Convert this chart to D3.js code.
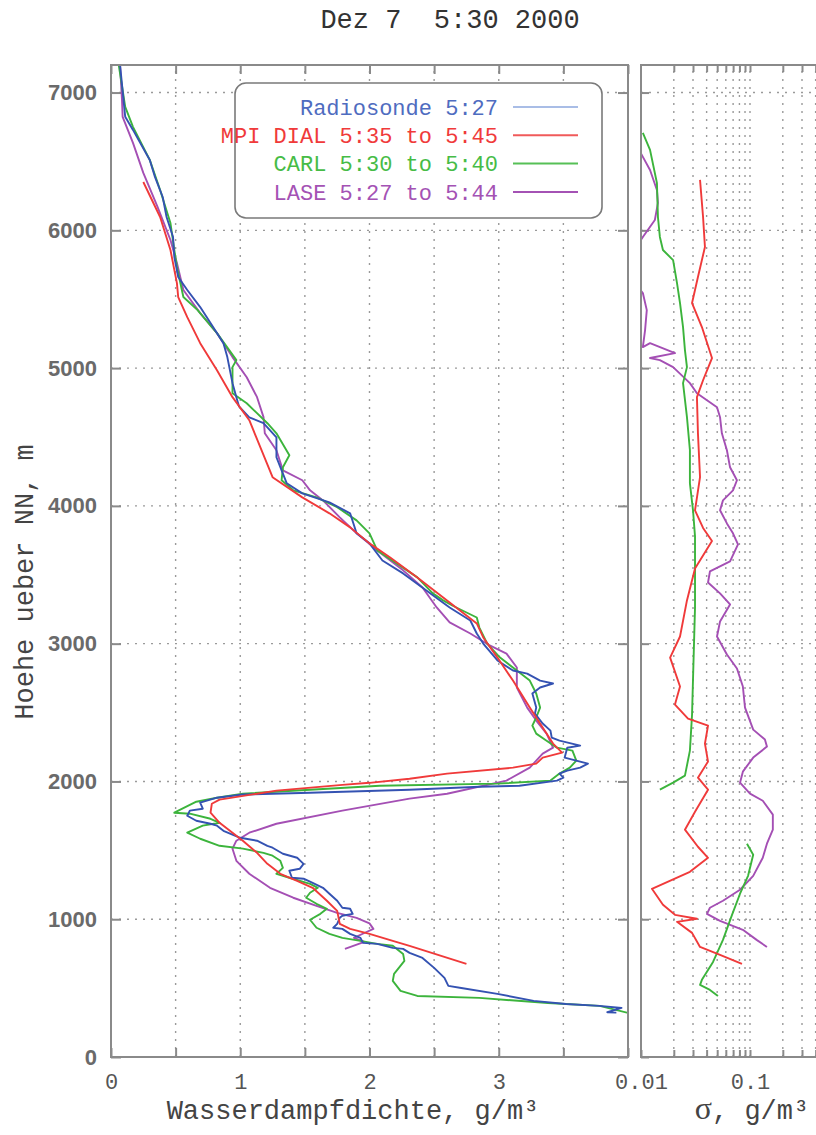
<!DOCTYPE html>
<html>
<head>
<meta charset="utf-8">
<title>Dez 7 5:30 2000</title>
<script src="https://d3js.org/d3.v7.min.js"></script>
<style>
  body { margin: 0; background: white; }
  svg { display: block; }
  .mono { font-family: "Liberation Mono", "DejaVu Sans Mono", monospace; }
  .grid line { stroke: #9a9a9a; stroke-dasharray: 2,6; stroke-width: 1.4; }
  .frame { fill: none; stroke: #8a8a8a; stroke-width: 2; }
  .curve { fill: none; stroke-width: 1.9; stroke-linejoin: round; }
  .axis path { display: none; }
  .axis line { stroke: #8a8a8a; stroke-width: 2; }
  .xax text { font-family: "Liberation Mono", monospace; font-size: 22px; fill: #555; }
  .yax text { font-family: "Liberation Sans", Arial, sans-serif; font-weight: bold; font-size: 22px; fill: #6a6a6a; }
</style>
</head>
<body>
<script>
// Wasserdampfdichte [g/m3, Hoehe m]
var radiosonde = [[0.07,7200],[0.11,6824],[0.17,6729],[0.30,6511],[0.34,6388],[0.40,6242],[0.43,6097],[0.48,5952],[0.49,5806],[0.52,5661],[0.59,5567],[0.69,5443],[0.77,5327],[0.87,5181],[0.90,5080],[0.94,4891],[0.97,4789],[0.99,4723],[1.07,4643],[1.18,4600],[1.28,4498],[1.28,4353],[1.32,4258],[1.36,4164],[1.48,4091],[1.69,4026],[1.85,3946],[1.90,3801],[2.00,3728],[2.10,3604],[2.26,3510],[2.44,3386],[2.62,3263],[2.78,3168],[2.83,3074],[2.88,3001],[2.99,2878],[3.11,2805],[3.22,2783],[3.32,2732],[3.42,2711],[3.32,2682],[3.26,2638],[3.29,2536],[3.28,2493],[3.34,2420],[3.40,2369],[3.41,2318],[3.47,2296],[3.63,2260],[3.53,2245],[3.51,2173],[3.60,2151],[3.69,2129],[3.63,2100],[3.53,2078],[3.47,2057],[3.50,2027],[3.45,2006],[3.16,1969],[2.85,1962],[2.31,1940],[1.54,1918],[1.02,1905],[0.82,1882],[0.69,1846],[0.71,1802],[0.61,1788],[0.59,1751],[0.66,1715],[0.77,1693],[0.82,1679],[0.87,1642],[1.00,1591],[1.13,1570],[1.21,1533],[1.25,1519],[1.33,1475],[1.44,1446],[1.49,1402],[1.46,1366],[1.38,1352],[1.40,1301],[1.49,1294],[1.56,1264],[1.64,1228],[1.69,1185],[1.75,1134],[1.79,1083],[1.85,1076],[1.87,1039],[1.79,1025],[1.77,1010],[1.75,966],[1.72,938],[1.79,930],[1.85,894],[1.93,865],[1.95,828],[2.06,821],[2.18,792],[2.26,785],[2.31,756],[2.41,719],[2.50,647],[2.58,574],[2.61,516],[2.71,501],[2.99,458],[3.27,407],[3.52,385],[3.78,371],[3.95,356],[3.84,325],[3.91,322]];
var mpiDial = [[0.25,6351],[0.38,6097],[0.46,5857],[0.51,5617],[0.52,5516],[0.59,5370],[0.69,5181],[0.82,4985],[0.94,4789],[1.07,4622],[1.25,4208],[1.48,4062],[1.69,3946],[1.85,3844],[2.00,3728],[2.16,3626],[2.37,3481],[2.60,3314],[2.83,3147],[2.88,3045],[2.99,2899],[3.11,2732],[3.24,2536],[3.34,2391],[3.42,2275],[3.49,2209],[3.34,2173],[3.29,2129],[3.11,2100],[2.60,2057],[2.31,2020],[2.00,1990],[1.79,1975],[1.28,1933],[0.84,1868],[0.78,1838],[0.77,1773],[0.84,1700],[0.94,1628],[1.02,1570],[1.13,1482],[1.21,1402],[1.31,1330],[1.44,1279],[1.56,1228],[1.67,1134],[1.75,1061],[1.77,966],[1.85,930],[2.00,894],[2.18,843],[2.31,807],[2.75,676]];
var carl = [[0.06,7200],[0.11,6896],[0.17,6751],[0.30,6511],[0.38,6293],[0.46,6053],[0.49,5857],[0.51,5734],[0.56,5516],[0.67,5421],[0.82,5254],[0.97,5058],[0.94,5007],[0.94,4818],[1.05,4745],[1.21,4600],[1.28,4527],[1.38,4367],[1.33,4280],[1.32,4186],[1.41,4113],[1.59,4062],[1.75,3990],[1.90,3895],[2.00,3801],[2.06,3677],[2.21,3583],[2.29,3532],[2.37,3481],[2.49,3365],[2.57,3314],[2.64,3277],[2.83,3190],[2.85,3117],[2.91,3001],[3.01,2899],[3.14,2805],[3.24,2732],[3.29,2638],[3.32,2536],[3.29,2464],[3.26,2405],[3.29,2347],[3.37,2296],[3.45,2245],[3.57,2224],[3.60,2151],[3.55,2100],[3.47,2057],[3.40,2006],[2.99,1984],[2.08,1969],[1.54,1940],[1.02,1911],[0.82,1882],[0.66,1853],[0.49,1773],[0.61,1766],[0.77,1729],[0.84,1700],[0.71,1679],[0.59,1628],[0.69,1584],[0.84,1533],[1.02,1512],[1.18,1482],[1.25,1461],[1.31,1424],[1.33,1373],[1.28,1330],[1.38,1301],[1.54,1257],[1.60,1228],[1.54,1192],[1.51,1156],[1.59,1112],[1.67,1076],[1.62,1039],[1.54,996],[1.59,938],[1.69,894],[1.79,865],[1.93,843],[2.06,821],[2.18,807],[2.26,748],[2.27,698],[2.19,603],[2.18,552],[2.24,480],[2.37,443],[2.85,429],[3.38,392],[3.78,371],[4.0,320]];
var lase = [[0.07,7200],[0.085,6947],[0.09,6824],[0.17,6635],[0.25,6417],[0.36,6170],[0.46,5930],[0.51,5763],[0.56,5567],[0.69,5399],[0.82,5254],[0.94,5080],[1.05,4934],[1.13,4789],[1.18,4644],[1.19,4527],[1.28,4404],[1.33,4258],[1.48,4186],[1.54,4113],[1.64,4040],[1.77,3917],[1.90,3801],[2.06,3677],[2.26,3532],[2.41,3408],[2.52,3263],[2.62,3154],[2.78,3074],[2.93,2987],[3.06,2928],[3.14,2827],[3.14,2682],[3.22,2536],[3.29,2442],[3.37,2347],[3.42,2245],[3.34,2202],[3.24,2100],[3.06,2006],[2.60,1911],[2.31,1875],[1.79,1788],[1.28,1693],[1.07,1628],[0.97,1570],[0.94,1512],[0.97,1424],[1.07,1330],[1.23,1228],[1.41,1156],[1.59,1097],[1.75,1046],[1.90,1010],[2.00,970],[2.03,930],[1.96,900],[1.88,865],[1.96,835],[1.81,785]];

// Standardabweichung sigma [g/m3, Hoehe m]
var sigmaMpi = [[0.0348,6366],[0.0371,6097],[0.0386,5879],[0.0333,5661],[0.0294,5472],[0.0362,5298],[0.0448,5073],[0.0371,4912],[0.0326,4789],[0.0333,4527],[0.0348,4208],[0.0313,3968],[0.0371,3840],[0.0448,3745],[0.0313,3546],[0.0264,3314],[0.0228,3052],[0.0185,2899],[0.0228,2689],[0.0205,2558],[0.0270,2456],[0.0412,2405],[0.0386,2275],[0.0412,2144],[0.0333,2027],[0.0412,1940],[0.0313,1780],[0.0253,1650],[0.0333,1526],[0.0412,1446],[0.0281,1344],[0.0126,1221],[0.0159,1105],[0.0205,1032],[0.0326,1003],[0.0214,981],[0.0294,901],[0.0348,799],[0.0531,741],[0.0844,676]];
var sigmaCarlUpper = [[0.0104,6707],[0.0121,6584],[0.0140,6344],[0.0143,6097],[0.0149,5952],[0.0159,5857],[0.0197,5784],[0.0214,5617],[0.0228,5472],[0.0243,5298],[0.0253,5131],[0.0264,5007],[0.0243,4891],[0.0264,4644],[0.0281,4404],[0.0281,4164],[0.0300,3968],[0.0313,3779],[0.0313,3263],[0.0300,2740],[0.0294,2485],[0.0281,2224],[0.0253,2042],[0.0197,1991],[0.0149,1940]];
var sigmaCarlLower = [[0.0938,1548],[0.107,1468],[0.096,1315],[0.081,1185],[0.0684,1032],[0.0565,850],[0.0458,690],[0.0362,560],[0.0348,523],[0.0429,487],[0.0508,443]];
var sigmaLaseUpper = [[0.0098,6570],[0.0104,6533],[0.0121,6438],[0.0140,6293],[0.0143,6199],[0.0134,6075],[0.0104,5952],[0.0098,5920]];
var sigmaLaseLower = [[0.0098,5570],[0.0104,5545],[0.0113,5421],[0.0109,5276],[0.0104,5152],[0.0121,5181],[0.0205,5109],[0.0121,5073],[0.0149,5058],[0.0197,5007],[0.0281,4891],[0.0326,4818],[0.0403,4767],[0.0498,4716],[0.0531,4644],[0.0552,4527],[0.0614,4404],[0.0656,4280],[0.0759,4186],[0.0698,4113],[0.0565,4040],[0.0531,3968],[0.0614,3873],[0.0698,3801],[0.0776,3720],[0.0656,3597],[0.0429,3524],[0.0412,3444],[0.0531,3365],[0.0656,3285],[0.0531,3161],[0.0498,3052],[0.0614,2921],[0.0759,2820],[0.0860,2689],[0.090,2536],[0.107,2376],[0.137,2304],[0.143,2253],[0.107,2173],[0.086,2071],[0.081,1991],[0.100,1911],[0.131,1860],[0.162,1759],[0.162,1650],[0.143,1548],[0.131,1446],[0.107,1315],[0.081,1214],[0.0565,1134],[0.0429,1083],[0.0403,1039],[0.0531,988],[0.086,923],[0.115,850],[0.143,799]];

var legendLabels = ["Radiosonde 5:27", "MPI DIAL 5:35 to 5:45", "CARL 5:30 to 5:40", "LASE 5:27 to 5:44"];
var heightTicks = [0, 1000, 2000, 3000, 4000, 5000, 6000, 7000];
var densityTicks = [0, 0.5, 1, 1.5, 2, 2.5, 3, 3.5, 4];
var sigmaTicks = [0.02, 0.03, 0.04, 0.05, 0.06, 0.07, 0.08, 0.09, 0.1, 0.2, 0.3, 0.4, 0.5, 0.6, 0.7, 0.8, 0.9];

var colors = { blue: "#3452b2", red: "#f03a3a", green: "#3cb43c", purple: "#a44fb4" };

var W = 816, H = 1135;
var svg = d3.select("body").append("svg").attr("width", W).attr("height", H);

var y = d3.scaleLinear().domain([0, 7200]).range([1057, 65]);
var xL = d3.scaleLinear().domain([0, 4]).range([111, 628]);
var xR = d3.scaleLog().domain([0.01, 1]).range([641, 859]);

var defs = svg.append("defs");
defs.append("clipPath").attr("id", "clipL").append("rect")
  .attr("x", xL(0)).attr("y", y(7200)).attr("width", xL(4) - xL(0)).attr("height", y(0) - y(7200));
defs.append("clipPath").attr("id", "clipR").append("rect")
  .attr("x", xR(0.01)).attr("y", y(7200)).attr("width", xR(1) - xR(0.01)).attr("height", y(0) - y(7200));

// grids
var gL = svg.append("g").attr("class", "grid");
gL.selectAll(".v").data(densityTicks.filter(function(d) { return d > 0 && d < 4; })).enter().append("line")
  .attr("x1", function(d) { return xL(d); }).attr("x2", function(d) { return xL(d); })
  .attr("y1", y(0)).attr("y2", y(7200));
gL.selectAll(".h").data(heightTicks.filter(function(d) { return d > 0; })).enter().append("line")
  .attr("x1", xL(0)).attr("x2", xL(4))
  .attr("y1", function(d) { return y(d); }).attr("y2", function(d) { return y(d); });

var gR = svg.append("g").attr("class", "grid");
gR.selectAll(".v").data(sigmaTicks).enter().append("line")
  .attr("x1", function(d) { return xR(d); }).attr("x2", function(d) { return xR(d); })
  .attr("y1", y(0)).attr("y2", y(7200));
gR.selectAll(".h").data(heightTicks.filter(function(d) { return d > 0; })).enter().append("line")
  .attr("x1", xR(0.01)).attr("x2", xR(1))
  .attr("y1", function(d) { return y(d); }).attr("y2", function(d) { return y(d); });

// axes (inward ticks)
svg.append("g").attr("class", "axis xax").attr("transform", "translate(0," + y(0) + ")")
  .call(d3.axisBottom(xL).tickValues(densityTicks).tickSize(-9).tickPadding(16)
    .tickFormat(function(d) { return (d % 1 === 0 && d < 4) ? d : ""; }));
svg.append("g").attr("class", "axis").attr("transform", "translate(0," + y(7200) + ")")
  .call(d3.axisTop(xL).tickValues(densityTicks).tickSize(-9).tickFormat(""));
svg.append("g").attr("class", "axis yax").attr("transform", "translate(" + xL(0) + ",0)")
  .call(d3.axisLeft(y).tickValues(heightTicks).tickSize(-10).tickPadding(14).tickFormat(d3.format("d")));
svg.append("g").attr("class", "axis").attr("transform", "translate(" + xL(4) + ",0)")
  .call(d3.axisRight(y).tickValues(heightTicks).tickSize(-10).tickFormat(""));

svg.append("g").attr("class", "axis xax").attr("transform", "translate(0," + y(0) + ")")
  .call(d3.axisBottom(xR).tickValues([0.01].concat(sigmaTicks)).tickSize(-7).tickPadding(16)
    .tickFormat(function(d) { return d === 0.01 ? "0.01" : d === 0.1 ? "0.1" : ""; }));
svg.append("g").attr("class", "axis").attr("transform", "translate(0," + y(7200) + ")")
  .call(d3.axisTop(xR).tickValues(sigmaTicks).tickSize(-7).tickFormat(""));
svg.append("g").attr("class", "axis").attr("transform", "translate(" + xR(0.01) + ",0)")
  .call(d3.axisLeft(y).tickValues(heightTicks).tickSize(-8).tickFormat(""));

// curves
var lineL = d3.line().x(function(d) { return xL(d[0]); }).y(function(d) { return y(d[1]); });
var lineR = d3.line().x(function(d) { return xR(d[0]); }).y(function(d) { return y(d[1]); });

var cl = svg.append("g").attr("clip-path", "url(#clipL)");
[[lase, colors.purple], [carl, colors.green], [radiosonde, colors.blue], [mpiDial, colors.red]].forEach(function(s) {
  cl.append("path").attr("class", "curve").attr("d", lineL(s[0])).attr("stroke", s[1]);
});
var cr = svg.append("g").attr("clip-path", "url(#clipR)");
[[sigmaLaseUpper, colors.purple], [sigmaLaseLower, colors.purple], [sigmaCarlUpper, colors.green],
 [sigmaCarlLower, colors.green], [sigmaMpi, colors.red]].forEach(function(s) {
  cr.append("path").attr("class", "curve").attr("d", lineR(s[0])).attr("stroke", s[1]);
});

// frames
svg.append("rect").attr("class", "frame")
  .attr("x", xL(0)).attr("y", y(7200)).attr("width", xL(4) - xL(0)).attr("height", y(0) - y(7200));
svg.append("rect").attr("class", "frame")
  .attr("x", xR(0.01)).attr("y", y(7200)).attr("width", xR(1) - xR(0.01)).attr("height", y(0) - y(7200));

// legend
var leg = svg.append("g");
leg.append("rect").attr("x", 235).attr("y", 83).attr("width", 367).attr("height", 135)
  .attr("rx", 11).attr("fill", "white").attr("stroke", "#7a7a7a").attr("stroke-width", 1.6);
var legText = ["#4f6cc0", "#f03a3a", "#46bc46", "#a452b4"];
var legLine = ["#a9bde6", "#f05a5a", "#56c056", "#a452b4"];
legendLabels.forEach(function(t, i) {
  var cy = 107 + i * 28.3;
  leg.append("text").attr("class", "mono").attr("x", 498).attr("y", cy).attr("dy", "0.35em")
    .attr("text-anchor", "end").attr("font-size", 22).attr("fill", legText[i]).text(t);
  leg.append("line").attr("x1", 513).attr("x2", 578).attr("y1", cy).attr("y2", cy)
    .attr("stroke", legLine[i]).attr("stroke-width", 2);
});

// titles
svg.append("text").attr("class", "mono").attr("x", 450).attr("y", 28).attr("text-anchor", "middle")
  .attr("font-size", 27).attr("fill", "#333").text("Dez 7  5:30 2000").style("white-space", "pre");
svg.append("text").attr("class", "mono").attr("x", 353).attr("y", 1119).attr("text-anchor", "middle")
  .attr("font-size", 27).attr("fill", "#444").text("Wasserdampfdichte, g/m³");
var sl = svg.append("text").attr("class", "mono").attr("x", 752).attr("y", 1119).attr("text-anchor", "middle")
  .attr("font-size", 27).attr("fill", "#444");
sl.append("tspan").attr("font-family", "Liberation Serif, serif").attr("font-size", 32).text("σ");
sl.append("tspan").text(", g/m³");
svg.append("text").attr("class", "mono").attr("transform", "translate(24,582) rotate(-90)")
  .attr("dy", "0.35em").attr("text-anchor", "middle").attr("font-size", 27).attr("fill", "#444")
  .text("Hoehe ueber NN, m");
</script>
</body>
</html>
